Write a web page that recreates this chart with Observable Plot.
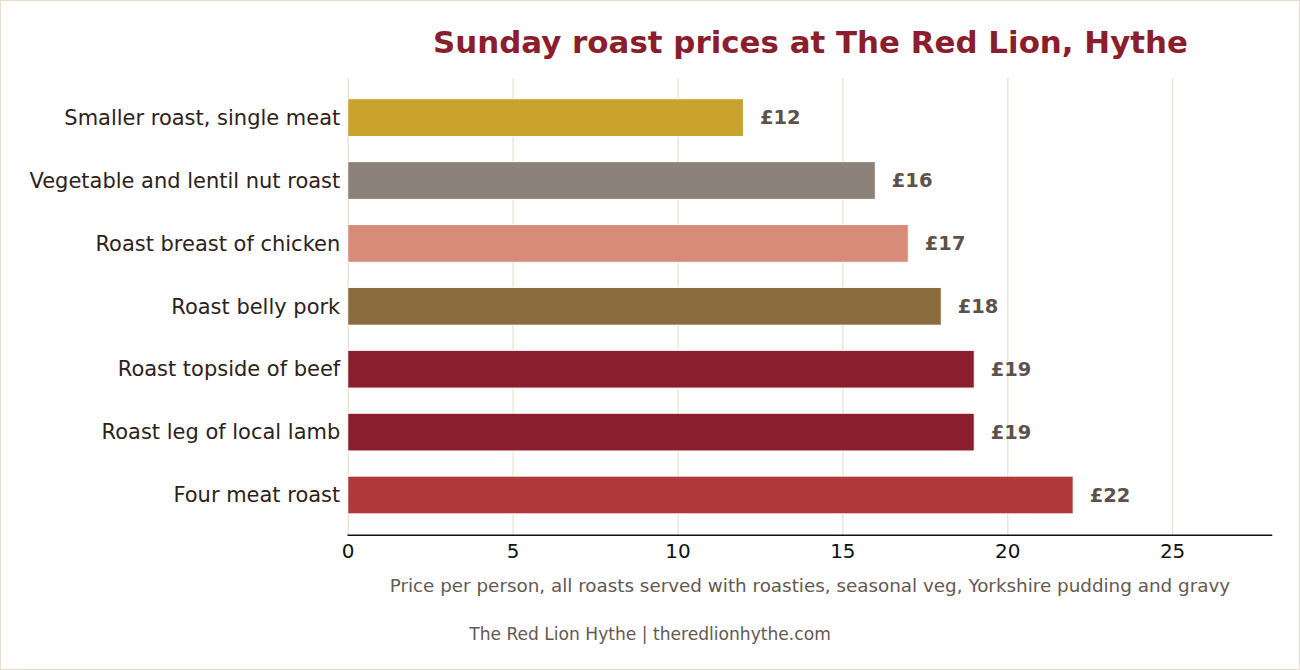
<!DOCTYPE html>
<html>
<head>
<meta charset="utf-8">
<script src="https://cdn.jsdelivr.net/npm/d3@7"></script>
<script src="https://cdn.jsdelivr.net/npm/@observablehq/plot@0.6"></script>
<style>
  html, body { margin: 0; padding: 0; background: #fff; }
  #frame { position: relative; width: 1300px; height: 670px; box-sizing: border-box; border: 1px solid #e8dccb; background: #fff; overflow: hidden; font-family: "DejaVu Sans", sans-serif; }
  #title { position: absolute; left: 347px; width: 925px; top: 23px; text-align: center; font-weight: bold; font-size: 30.9px; line-height: 36px; color: #8b1e2c; }
  #chart { position: absolute; left: -1px; top: 59px; }
  #footer { position: absolute; left: 0; width: 1298px; top: 622px; text-align: center; font-size: 17.1px; line-height: 22px; color: #655850; }
</style>
</head>
<body>
<div id="frame">
  <div id="title">Sunday roast prices at The Red Lion, Hythe</div>
  <div id="chart"></div>
  <div id="footer">The Red Lion Hythe | theredlionhythe.com</div>
</div>
<script>
const dishes = [
  "Smaller roast, single meat",
  "Vegetable and lentil nut roast",
  "Roast breast of chicken",
  "Roast belly pork",
  "Roast topside of beef",
  "Roast leg of local lamb",
  "Four meat roast"
];
const prices = [12, 16, 17, 18, 19, 19, 22];
const barColors = ["#c9a32b", "#8c8279", "#d98b7a", "#8a6b3d", "#8a1e2c", "#8a1e2c", "#b03a3b"];
const xTicks = [0, 5, 10, 15, 20, 25];
const xLabel = "Price per person, all roasts served with roasties, seasonal veg, Yorkshire pudding and gravy";

const data = dishes.map((d, i) => ({dish: d, price: prices[i], color: barColors[i]}));

const chart = Plot.plot({
  width: 1300,
  height: 545,
  marginLeft: 348,
  marginRight: 28,
  marginTop: 18,
  marginBottom: 70,
  style: {fontFamily: "DejaVu Sans, sans-serif", background: "transparent"},
  x: {domain: [0, 28], ticks: xTicks, label: null},
  y: {domain: dishes, paddingInner: 0.4, paddingOuter: 0.33, round: false, label: null},
  marks: [
    Plot.gridX(xTicks, {stroke: "#efe5d6", strokeOpacity: 1, strokeWidth: 1.5}),
    Plot.barX(data, {x: "price", y: "dish", fill: "color", stroke: "#fff", strokeWidth: 1}),
    Plot.text(data, {x: "price", y: "dish", text: d => "£" + d.price, dx: 16, textAnchor: "start", fill: "#5e5149", fontWeight: "bold", fontSize: 19.5}),
    Plot.axisY({tickSize: 0, tickPadding: 8, fontSize: 21, fill: "#2e211c", label: null}),
    Plot.axisX(xTicks, {tickSize: 0, tickPadding: 9, fontSize: 20, fill: "#111", label: null}),
    Plot.frame({anchor: "bottom", stroke: "#111", strokeWidth: 1.5}),
    Plot.text([xLabel], {frameAnchor: "bottom", lineAnchor: "middle", dy: 51, fontSize: 18.35, fill: "#655850", textAnchor: "middle"})
  ]
});
document.getElementById("chart").appendChild(chart);
</script>
</body>
</html>
